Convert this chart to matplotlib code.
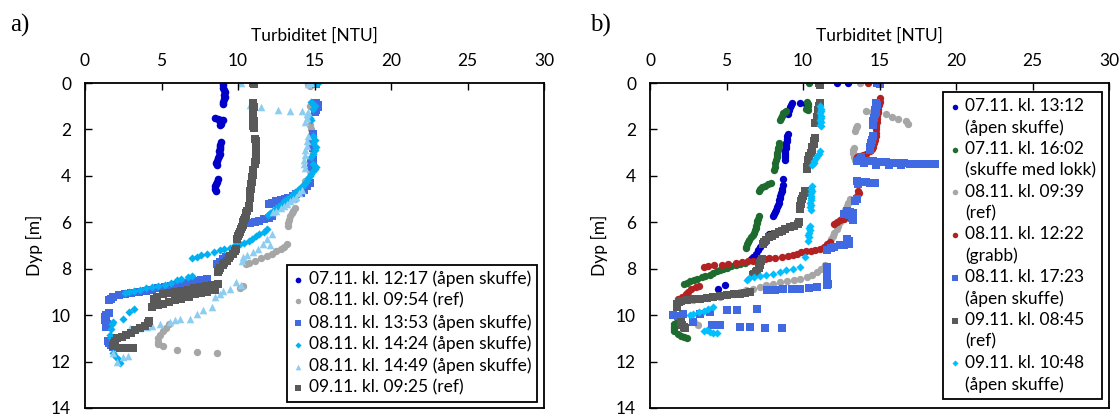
import matplotlib
matplotlib.use("Agg")
import matplotlib.pyplot as plt

plt.rcParams['font.family'] = ['Lato', 'DejaVu Sans']

# ---------- panel a: (depth [m], turbidity [NTU]) ----------
a_0712_1217 = [(0.0,9.0),(0.1,9.05),(0.2,9.0),(0.3,9.1),(0.4,9.15),(0.5,9.1),(0.6,9.15),(0.7,9.1),(0.8,9.05),(0.9,9.0),
               (1.5,8.5),(1.55,8.7),(1.6,8.9),(1.6,9.05),(1.65,8.8),(1.7,8.85),(1.75,8.9),(1.8,8.8),
               (2.55,8.9),(2.65,8.85),(2.75,8.85),(2.85,8.8),(2.95,8.75),(3.05,8.8),(3.15,8.75),(3.25,8.7),(3.35,8.6),(3.45,8.55),(3.55,8.6),
               (4.15,8.7),(4.25,8.6),(4.35,8.55),(4.45,8.5),(4.55,8.5),(4.65,8.55)]
a_0811_0954 = [(0.0,14.8),(0.05,14.6),(0.15,14.7),
               (1.0,14.7),(1.4,14.6),(1.8,14.7),(2.0,14.8),(2.2,14.9),(2.6,14.9),(3.0,14.9),(3.3,14.8),
               (3.8,14.7),(4.2,14.4),(4.6,14.0),(5.0,13.7),
               (5.4,13.7),(5.5,13.6),(5.6,13.5),(5.75,13.4),(5.9,13.35),(6.05,13.3),(6.15,13.25),
               (6.95,13.2),(7.05,13.0),(7.15,12.8),(7.25,12.5),(7.35,12.2),(7.45,11.9),(7.55,11.5),(7.65,11.1),(7.75,10.7),(7.8,10.5),
               (8.75,10.3),(8.85,10.1),
               (10.4,5.5),(10.55,5.3),(10.7,5.1),(10.85,4.9),(11.0,4.8),(11.15,4.75),(11.25,4.8),
               (11.35,5.1),(11.5,6.0),(11.57,7.3),(11.65,8.6)]
a_0811_1353 = [(0.0,15.0),(0.05,15.1),
               (0.85,15.1),(0.95,15.2),(1.05,15.2),(1.15,15.1),(1.25,15.0),
               (2.2,14.9),(2.35,14.9),(2.5,14.8),(2.65,14.8),(2.8,14.9),
               (3.3,14.9),(3.45,14.8),(3.6,14.8),
               (4.3,14.7),(4.45,14.5),(4.6,14.3),(4.72,14.1),(4.8,13.8),(4.87,13.6),(4.95,13.3),(5.0,13.1),(5.05,12.8),(5.1,12.5),(5.15,12.2),(5.2,12.0),
               (5.75,12.2),(5.82,12.0),(5.88,11.7),(5.94,11.4),(6.0,11.1),(6.05,10.8),
               (7.5,9.2),(7.6,9.0),(7.7,8.8),(7.8,8.6),
               (8.45,8.0),(8.5,7.6),(8.55,7.2),(8.6,6.8),(8.65,6.4),(8.7,6.0),(8.75,5.6),(8.8,5.2),(8.85,4.8),(8.9,4.4),(8.95,4.0),
               (9.0,3.5),(9.05,3.0),(9.1,2.6),(9.15,2.2),(9.22,1.85),(9.3,1.7),(9.36,1.6),
               (9.9,1.55),(10.0,1.4),(10.1,1.3),(10.2,1.3),(10.3,1.4),(10.4,1.45),(10.5,1.4),
               (11.1,1.5),(11.2,1.55),(11.3,1.7),(11.38,1.8)]
a_0811_1424 = [(0.0,14.9),(0.0,15.2),(0.05,15.05),
               (0.8,14.8),(0.9,14.9),(1.0,15.0),(1.1,14.9),(1.5,14.7),(1.6,14.8),
               (2.3,14.9),(2.45,15.0),(2.6,14.9),(2.75,15.1),(2.9,15.0),(3.05,14.9),(3.2,14.8),
               (3.5,14.9),(3.6,15.1),(3.7,15.0),(3.8,14.9),(3.9,14.8),(4.0,14.7),(4.1,14.6),(4.2,14.5),(4.3,14.4),(4.4,14.3),(4.5,14.1),
               (4.6,13.9),(4.7,13.75),(4.8,13.6),(4.9,13.4),(5.0,13.2),(5.1,13.0),(5.2,12.85),(5.3,12.7),(5.4,12.5),(5.5,12.3),(5.6,12.1),(5.7,11.95),
               (6.3,11.9),(6.4,11.7),(6.5,11.4),(6.6,11.2),(6.7,10.9),(6.8,10.7),(6.9,10.4),(6.95,10.1),(7.0,9.8),(7.1,9.5),(7.15,9.1),
               (7.2,8.8),(7.3,8.4),(7.35,8.0),(7.4,7.6),(7.5,7.3),(7.55,7.0),
               (8.3,7.0),(8.35,6.7),(8.45,6.3),(8.5,6.0),(8.6,5.6),(8.7,5.2),(8.75,4.8),(8.8,4.4),(8.85,4.0),(8.9,3.6),(8.95,3.2),(9.0,2.9),(9.05,2.6),
               (9.72,3.2),(9.85,2.9),(10.15,2.5),(10.29,1.85),(10.4,1.75),(10.6,1.7),(10.86,1.63),(11.0,1.7),
               (11.65,1.85),(11.8,2.0),(11.95,2.2),(12.07,2.3)]
a_0811_1449 = [(0.0,10.2),(0.0,14.8),(0.05,14.6),
               (0.95,10.8),(1.05,11.5),(1.15,12.6),(1.2,13.4),(1.22,14.2),(1.25,14.6),
               (1.35,14.5),(1.5,14.5),(1.7,14.4),(2.3,14.6),(2.5,14.5),(2.7,14.5),(2.9,14.4),(3.1,14.4),(3.3,14.3),(3.5,14.3),(3.65,14.4),
               (4.6,14.2),(4.75,14.0),(4.9,13.8),(5.0,13.6),(5.1,13.4),(5.2,13.2),(5.3,13.0),(5.4,12.8),(5.5,12.5),(5.57,12.3),
               (6.5,12.2),(6.7,11.9),(6.93,11.66),(7.0,12.1),(7.15,11.3),(7.29,11.0),(7.43,10.57),(7.5,10.35),(7.65,10.24),
               (8.58,9.9),(8.7,10.2),(8.86,9.48),(8.95,9.0),(9.08,8.8),(9.2,8.5),
               (9.65,8.28),(9.79,7.73),(9.95,7.3),(10.15,6.86),(10.15,6.2),(10.22,5.9),(10.29,5.56),(10.36,4.9),(10.45,4.4),(10.5,4.03),(10.57,3.5),(10.57,2.94),
               (11.65,1.85),(11.8,2.5),(12.0,2.07),(11.75,2.8)]
a_0911_0925 = [(0.0,11.0),(0.05,11.05),
               (0.85,11.0),(0.95,11.0),(1.05,11.05),(1.15,11.0),(1.25,11.0),(1.35,10.95),(1.45,11.0),(1.55,11.0),(1.65,11.05),(1.75,11.0),(1.85,11.0),(1.95,11.05),
               (2.4,11.1),(2.5,11.15),(2.6,11.15),(2.7,11.2),(2.8,11.2),(2.9,11.15),(3.0,11.2),(3.1,11.2),(3.2,11.15),(3.3,11.15),(3.4,11.1),(3.5,11.1),
               (3.75,11.0),(3.85,11.0),(3.95,10.95),(4.05,10.9),(4.15,10.9),(4.25,10.9),(4.35,10.85),(4.45,10.85),(4.55,10.85),(4.65,10.8),(4.75,10.8),(4.85,10.8),(4.95,10.8),
               (5.3,10.75),(5.4,10.7),(5.5,10.6),(5.6,10.55),(5.7,10.5),(5.8,10.45),(5.9,10.4),(6.0,10.35),(6.1,10.3),(6.2,10.25),(6.3,10.2),(6.4,10.1),(6.5,10.05),(6.6,10.0),(6.7,9.95),
               (7.15,9.9),(7.25,9.8),(7.35,9.65),(7.45,9.5),(7.55,9.4),(7.65,9.25),(7.75,9.1),(7.85,9.0),(7.95,8.85),(8.05,8.75),(8.13,8.7),
               (8.65,8.7),(8.7,8.3),(8.75,7.9),(8.8,7.5),(8.85,7.1),(8.9,6.7),(8.95,6.3),(9.0,5.9),(9.05,5.5),(9.1,5.1),(9.2,4.7),(9.3,4.5),
               (8.9,8.5),(9.0,8.0),(9.05,7.6),(9.1,7.2),(9.2,6.8),(9.3,6.3),(9.35,5.9),(9.45,5.5),(9.5,5.1),(9.55,4.8),(9.65,4.4),
               (10.25,4.2),(10.35,4.15),(10.45,3.9),(10.55,3.6),(10.65,3.3),(10.75,3.0),(10.85,2.7),(10.95,2.4),(11.0,2.1),(11.1,1.95),(11.2,1.9),(11.32,1.85),
               (11.4,2.3),(11.4,2.7),(11.4,3.16)]

# ---------- panel b ----------
b_0711_1312 = [(0.0,12.2),(0.0,12.95),
               (0.87,9.3),(0.87,9.8),(0.9,10.2),(0.95,9.2),(1.05,9.15),(1.15,9.1),(1.25,9.05),(1.35,9.0),
               (2.2,9.0),(2.3,8.95),(2.4,8.95),(2.5,8.95),(2.6,8.9),(2.7,8.9),(2.8,8.9),(2.9,8.85),(3.0,8.85),(3.1,8.85),(3.2,8.8),(3.3,8.8),
               (4.15,8.7),(4.4,8.7),(4.55,8.6),(4.65,8.6),(4.75,8.55),(4.85,8.5),(4.95,8.5),(5.05,8.45),(5.15,8.4),(5.25,8.35),(5.35,8.3),(5.45,8.25),(5.55,8.2),(5.65,8.1),(5.72,8.05),
               (6.5,7.75),(6.5,7.95),(6.55,7.85),
               (6.86,7.5),(6.95,7.35),(7.08,7.2),(7.2,7.05),(7.36,6.95),(7.5,6.75),(7.6,6.6),
               (8.72,4.9),(8.86,4.47)]
b_0711_1602 = [(0.0,10.4),
               (0.8,10.25),(0.9,10.3),(1.0,10.3),(1.1,10.2),(1.16,10.35),
               (1.2,8.9),(1.25,8.8),(1.3,8.7),(1.4,8.6),(1.5,8.55),(1.6,8.5),
               (2.6,8.4),(2.7,8.4),(2.8,8.35),(2.9,8.35),(3.0,8.3),(3.1,8.3),(3.2,8.3),(3.3,8.25),(3.45,8.2),(3.6,8.15),(3.75,8.1),
               (4.3,7.9),(4.37,7.7),(4.42,7.5),(4.47,7.3),(4.55,7.2),(4.65,7.15),
               (5.75,7.1),(5.85,7.05),(5.95,7.0),(6.05,7.0),(6.15,6.95),(6.25,6.9),(6.35,6.85),(6.45,6.8),(6.55,6.7),(6.65,6.6),(6.75,6.5),(6.85,6.4),(6.95,6.35),(7.05,6.3),(7.1,6.25),
               (7.75,6.2),(7.8,5.9),(7.85,5.6),(7.9,5.3),(7.95,5.0),(8.0,4.8),(8.05,4.6),(8.1,4.4),(8.2,4.1),(8.25,3.9),(8.3,3.6),(8.35,3.4),(8.45,3.1),(8.5,2.9),(8.55,2.6),(8.6,2.4),(8.65,2.2),
               (10.3,1.75),(10.4,1.6),(10.5,1.55),(10.6,1.55),(10.7,1.6),(10.8,1.8),(10.9,2.0),(10.95,2.2),(11.0,2.4)]
b_0811_0939 = [(0.0,13.75),
               (1.2,14.1),(1.25,14.5),(1.3,14.9),(1.35,15.4),(1.45,15.8),(1.55,16.2),(1.65,16.7),(1.75,16.85),
               (1.85,13.5),(1.95,13.45),(2.05,13.4),
               (2.8,13.35),(2.9,13.3),(3.0,13.3),(3.1,13.35),(3.2,13.35),(3.3,13.4),
               (5.0,13.05),(5.15,12.95),(5.3,12.85),(5.45,12.75),(5.6,12.7),(5.75,12.6),(5.86,12.55),(6.0,12.4),(6.15,12.3),(6.3,12.2),(6.45,12.05),(6.6,11.95),(6.72,11.85),(6.85,11.75),(7.0,11.65),(7.15,11.55),
               (7.86,11.45),(8.0,11.2),(8.15,10.9),(8.25,10.6),(8.36,10.25),(8.43,9.8),(8.5,9.4),(8.55,8.95),(8.58,8.5),(8.65,8.05),(8.72,7.6),(8.8,7.2),(8.86,6.75),
               (8.93,6.3),(9.0,5.9),(9.08,5.45),(9.15,5.0),(9.2,4.55),(9.22,4.15),(9.26,3.7),(9.29,3.25),(9.33,2.8),(9.36,2.4),
               (10.29,2.85),(10.43,3.15)]
b_0811_1222 = [(0.0,14.25),
               (0.66,15.05),(0.8,15.0),(0.95,14.95),(1.1,14.9),(1.25,14.9),(1.4,14.85),(1.55,14.85),(1.7,14.85),(1.85,14.8),(2.0,14.8),(2.15,14.8),(2.3,14.75),(2.45,14.7),(2.6,14.65),(2.75,14.6),
               (2.85,14.5),(2.95,14.4),(3.05,14.1),(3.1,13.9),(3.15,13.7),(3.2,13.5),
               (4.65,13.6),(4.75,13.65),(4.87,13.55),
               (5.86,12.65),(5.92,12.4),(6.0,12.2),(6.07,12.0),
               (6.86,11.75),(6.95,11.55),(7.05,11.35),(7.15,11.1),(7.2,10.8),(7.22,10.5),(7.25,10.2),(7.3,9.9),(7.35,9.6),(7.4,9.35),(7.45,9.0),(7.5,8.6),(7.52,8.2),(7.55,7.8),
               (7.58,7.5),(7.62,7.1),(7.65,6.75),(7.68,6.4),(7.72,6.0),(7.75,5.6),(7.79,5.1),(7.82,4.7),(7.86,4.2),(7.9,3.8),(7.93,3.5),
               (8.75,3.2),(8.8,3.0),(8.86,2.7),(9.0,2.5),(9.1,2.35),(9.2,2.1),(9.29,1.8)]
b_0811_1723 = [(0.0,14.85),(0.05,15.0),
               (0.86,14.8),(0.95,14.85),(1.05,14.75),(1.15,14.7),(1.25,14.75),(1.35,14.7),(1.5,14.65),(1.65,14.6),(1.8,14.6),
               (2.3,14.55),(2.45,14.5),(2.6,14.45),(2.75,14.4),(2.87,14.4),
               (3.2,13.8),(3.3,13.7),(3.35,13.5),(3.35,14.2),(3.38,14.6),(3.4,15.0),(3.42,15.4),(3.43,15.8),(3.44,16.2),(3.45,16.6),(3.47,17.0),(3.48,17.4),
               (3.5,17.8),(3.5,18.2),(3.48,18.6),(3.55,14.8),(3.55,15.6),(3.55,16.4),(3.45,14.0),
               (4.2,13.5),(4.25,13.8),(4.25,14.1),(4.3,14.4),(4.3,14.7),(4.35,13.6),
               (5.0,13.5),(5.1,13.4),(5.5,12.85),(5.55,13.1),(5.6,13.3),(5.65,12.7),(5.7,13.0),(5.8,13.2),(5.9,13.25),
               (6.72,12.85),(6.8,13.0),(6.93,13.0),(7.0,12.7),(7.0,12.4),(7.05,12.0),(7.1,11.8),(7.2,11.55),
               (7.93,11.55),(8.05,11.55),(8.2,11.6),(8.35,11.55),(8.5,11.6),(8.65,11.65),(8.72,11.6),(8.79,10.9),(8.82,10.4),(8.86,9.8),(8.86,9.3),(8.86,8.7),(8.9,8.2),(8.93,7.63),
               (9.93,2.18),(10.0,1.52),(10.05,1.8),(9.93,3.27),(9.86,3.92),(9.79,5.0),(9.79,5.66),(9.72,6.97),
               (10.29,2.83),(10.43,4.03),(10.43,4.57),(10.5,5.88),(10.5,6.54),(10.55,7.52),(10.55,8.6)]
b_0911_0845 = [(0.0,11.05),(0.1,11.1),
               (0.87,11.1),(1.0,11.05),(1.16,11.0),(1.3,10.95),(1.45,10.9),(1.58,10.9),(1.72,10.8),
               (2.37,10.78),(2.5,10.75),(2.62,10.7),(2.75,10.6),(2.87,10.57),(3.0,10.5),(3.15,10.4),(3.3,10.35),(3.45,10.3),(3.6,10.25),(3.72,10.24),
               (4.65,10.13),(4.75,10.1),(4.85,10.0),(5.0,9.91),(5.1,9.9),(5.2,9.85),(5.3,9.8),(5.44,9.8),
               (6.0,9.75),(6.08,9.69),(6.15,9.4),(6.22,9.15),(6.3,8.85),(6.36,8.6),(6.43,8.4),(6.5,8.15),(6.58,7.95),(6.65,7.75),(6.75,7.6),(6.85,7.45),(6.93,7.4),
               (7.58,7.3),(7.65,7.25),(7.75,7.2),(7.86,7.19),(7.95,7.1),(8.08,6.97),(8.15,6.9),(8.22,6.8),(8.29,6.75),
               (9.0,6.54),(9.05,6.2),(9.08,5.88),(9.1,5.5),(9.15,5.0),(9.18,4.6),(9.22,4.14),(9.26,3.7),(9.29,3.27),(9.32,2.85),(9.36,2.4),(9.4,2.05),(9.43,1.9),
               (9.5,1.74),(9.58,1.74),(9.65,1.74),
               (10.3,2.0),(10.43,2.07),(10.5,2.2),(10.57,2.29)]
b_0911_1048 = [(1.0,11.1),(1.1,11.15),(1.2,11.2),(1.3,11.1),(1.4,11.15),(1.5,11.2),(1.6,11.1),(1.7,11.15),(1.8,11.1),(1.87,11.2),
               (2.95,11.1),(3.05,11.05),(3.15,10.9),(3.25,10.85),(3.35,10.75),(3.45,10.7),(3.55,10.6),
               (4.45,10.6),(4.55,10.55),(4.65,10.6),(4.75,10.5),(4.85,10.55),(4.95,10.5),(5.05,10.55),(5.15,10.45),(5.25,10.5),(5.35,10.45),(5.45,10.5),
               (6.15,10.45),(6.25,10.4),(6.35,10.45),(6.45,10.4),(6.55,10.35),(6.65,10.4),(6.79,10.35),
               (7.5,10.15),
               (7.93,9.8),(8.0,9.35),(8.05,8.9),(8.15,8.5),(8.22,8.05),(8.29,7.6),(8.33,7.2),(8.36,6.8),(8.42,6.5),(8.5,6.32),
               (9.65,4.14),(9.72,3.8),(9.8,3.5),(9.86,3.2),(9.93,2.83),(10.0,2.6),
               (10.65,3.7),(10.7,3.5),(10.72,3.9),(10.79,4.14),(10.75,4.4)]

labels_a = ["07.11. kl. 12:17 (åpen skuffe)", "08.11. kl. 09:54 (ref)", "08.11. kl. 13:53 (åpen skuffe)",
            "08.11. kl. 14:24 (åpen skuffe)", "08.11. kl. 14:49 (åpen skuffe)", "09.11. kl. 09:25 (ref)"]
labels_b = [("07.11. kl. 13:12", "(åpen skuffe)"), ("07.11. kl. 16:02", "(skuffe med lokk)"),
            ("08.11. kl. 09:39", "(ref)"), ("08.11. kl. 12:22", "(grabb)"),
            ("08.11. kl. 17:23", "(åpen skuffe)"), ("09.11. kl. 08:45", "(ref)"),
            ("09.11. kl. 10:48", "(åpen skuffe)")]

series_a = [a_0712_1217, a_0811_0954, a_0811_1353, a_0811_1424, a_0811_1449, a_0911_0925]
series_b = [b_0711_1312, b_0711_1602, b_0811_0939, b_0811_1222, b_0811_1723, b_0911_0845, b_0911_1048]

# styles: (colour, marker, size)
style_a = [('#0000c8', 'o', 30), ('#a6a6a6', 'o', 28), ('#4169e1', 's', 28),
           ('#00b0f0', 'D', 17), ('#8ecdf2', '^', 30), ('#595959', 's', 34)]
style_b = [('#0000c8', 'o', 28), ('#1e6b30', 'o', 28), ('#a6a6a6', 'o', 28), ('#b22222', 'o', 28),
           ('#4169e1', 's', 30), ('#595959', 's', 30), ('#00bfff', 'D', 17)]

fig = plt.figure(figsize=(11.2, 4.17), dpi=100)
ax_a = fig.add_axes([85/1120, 9/417, 459/1120, 325/417])
ax_b = fig.add_axes([650/1120, 9/417, 459/1120, 325/417])


def draw(ax, series, styles, labels):
    hs = []
    for pts, (col, mk, sz), lab in zip(series, styles, labels):
        d = [p[0] for p in pts]
        t = [p[1] for p in pts]
        hs.append(ax.scatter(t, d, s=sz, c=col, marker=mk, linewidths=0, label=lab))
    ax.set_xlim(0, 30)
    ax.set_ylim(14, 0)
    ax.set_xticks(range(0, 31, 5))
    ax.set_yticks(range(0, 15, 2))
    ax.xaxis.tick_top()
    ax.xaxis.set_label_position('top')
    ax.tick_params(direction='in', length=5, width=1, labelsize=12.5, pad=10, colors='black')
    for sp in ax.spines.values():
        sp.set_linewidth(1.3)
    ax.set_xlabel("Turbiditet [NTU]", fontsize=12.5, labelpad=9)
    ax.set_ylabel("Dyp [m]", fontsize=12.5, labelpad=6)
    return hs


draw(ax_a, series_a, style_a, labels_a)
hs_b = draw(ax_b, series_b, style_b, [l[0] for l in labels_b])

leg_kw = dict(fontsize=12.5, frameon=True, fancybox=False, edgecolor='black', framealpha=1,
              markerscale=0.75, handlelength=0.6, handletextpad=0.3, labelspacing=0.3,
              borderpad=0.35, borderaxespad=0)
leg_a = ax_a.legend(loc='lower right', bbox_to_anchor=(0.985, 0.02), **leg_kw)
leg_a.get_frame().set_linewidth(1.3)

# two-line entries in b: marker beside the first line only
blank = plt.Line2D([], [], linestyle='none', marker='none')
h_b, t_b = [], []
for h, (l1, l2) in zip(hs_b, labels_b):
    h_b += [h, blank]
    t_b += [l1, l2]
leg_b = ax_b.legend(h_b, t_b, loc='upper right', bbox_to_anchor=(0.985, 0.972), **leg_kw)
leg_b.get_frame().set_linewidth(1.3)

fig.text(10/1120, 1 - 25/417, "a)", fontsize=18, family='Liberation Serif', va='center')
fig.text(590/1120, 1 - 25/417, "b)", fontsize=18, family='Liberation Serif', va='center')

fig.savefig("out.png", dpi=100)
